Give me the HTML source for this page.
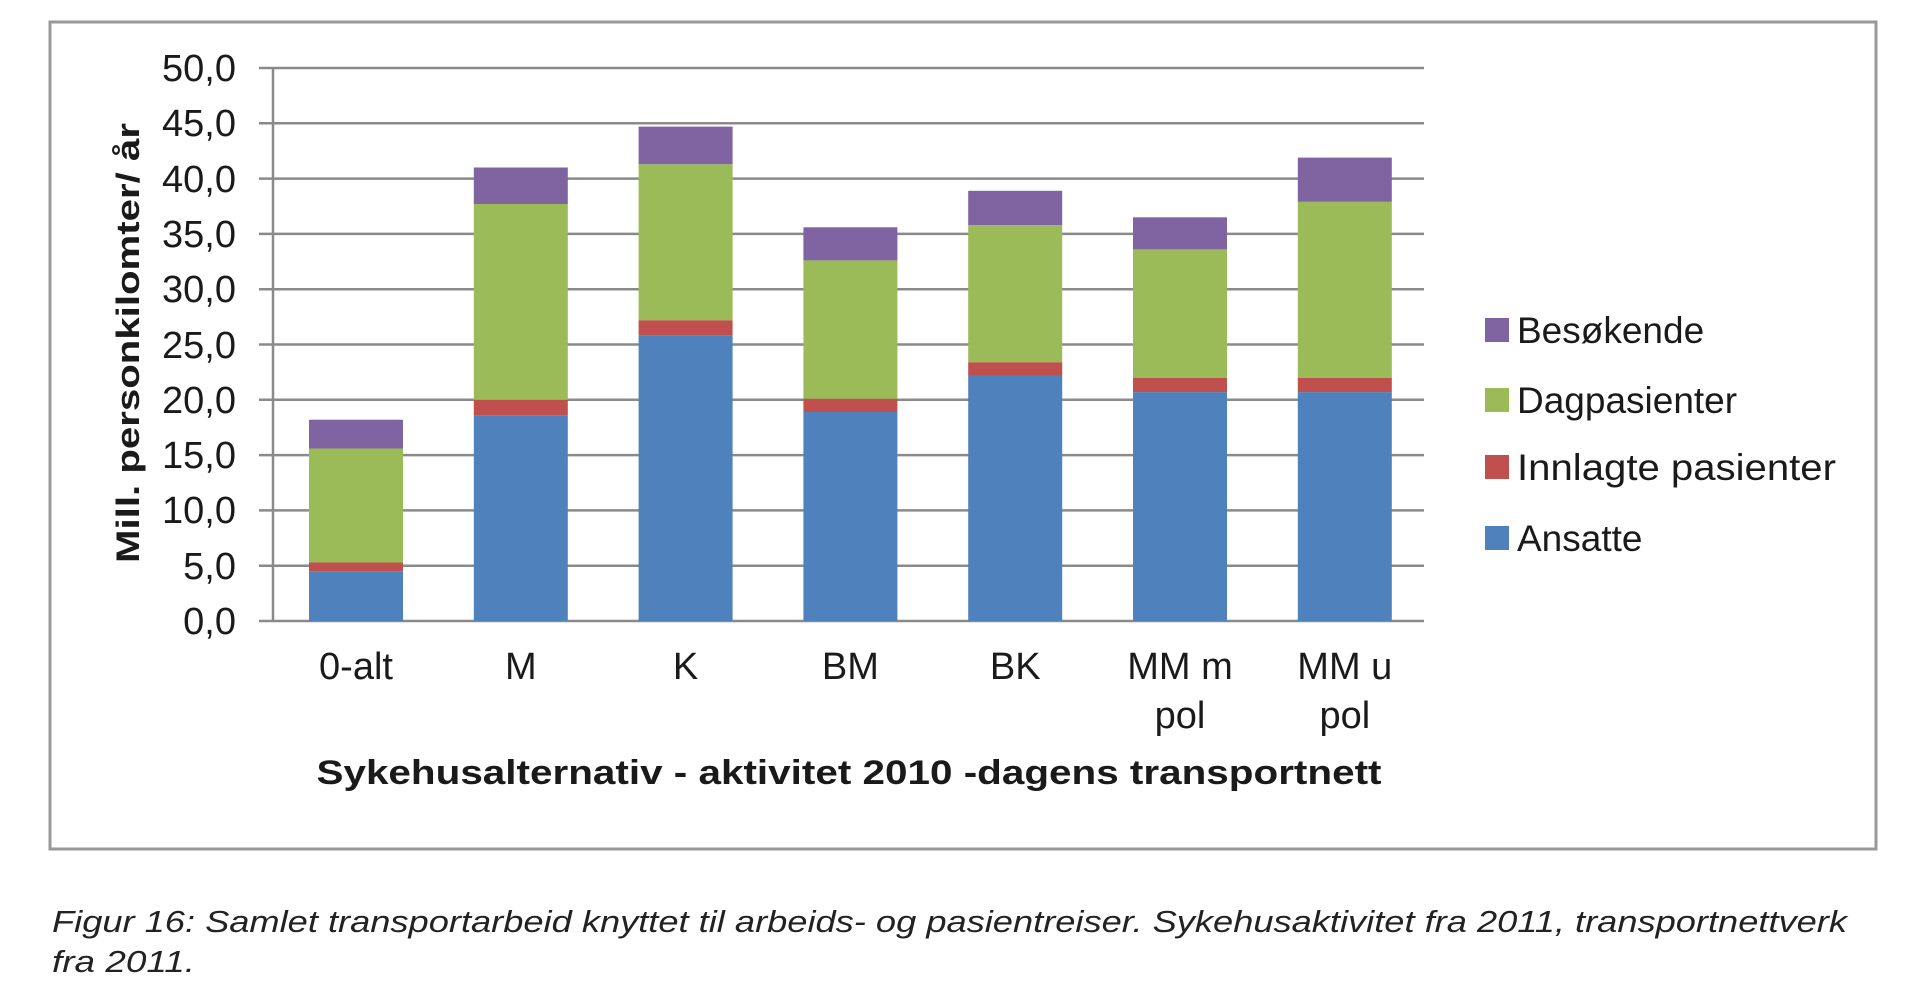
<!DOCTYPE html>
<html><head><meta charset="utf-8"><style>
html,body{margin:0;padding:0;background:#fff;}
svg{display:block;font-family:"Liberation Sans",Arial,sans-serif;}
</style></head><body>
<svg width="1927" height="992" viewBox="0 0 1927 992" xmlns="http://www.w3.org/2000/svg">
<rect x="0" y="0" width="1927" height="992" fill="#fff"/>
<rect x="50" y="22" width="1826" height="827" fill="#fff" stroke="#999" stroke-width="3"/>
<g stroke="#8a8a8a" stroke-width="2.5">
<line x1="259" y1="68" x2="1424" y2="68"/>
<line x1="259" y1="123.3" x2="1424" y2="123.3"/>
<line x1="259" y1="178.6" x2="1424" y2="178.6"/>
<line x1="259" y1="233.9" x2="1424" y2="233.9"/>
<line x1="259" y1="289.2" x2="1424" y2="289.2"/>
<line x1="259" y1="344.5" x2="1424" y2="344.5"/>
<line x1="259" y1="399.8" x2="1424" y2="399.8"/>
<line x1="259" y1="455.1" x2="1424" y2="455.1"/>
<line x1="259" y1="510.4" x2="1424" y2="510.4"/>
<line x1="259" y1="565.7" x2="1424" y2="565.7"/>
<line x1="259" y1="621" x2="1424" y2="621"/>
<line x1="273" y1="68" x2="273" y2="621"/>
</g>
<g font-size="38" fill="#1a1a1a" text-anchor="end">
<text x="236" y="81">50,0</text>
<text x="236" y="136">45,0</text>
<text x="236" y="192">40,0</text>
<text x="236" y="247">35,0</text>
<text x="236" y="302">30,0</text>
<text x="236" y="358">25,0</text>
<text x="236" y="413">20,0</text>
<text x="236" y="468">15,0</text>
<text x="236" y="523">10,0</text>
<text x="236" y="579">5,0</text>
<text x="236" y="634">0,0</text>
</g>
<text transform="translate(139,343) rotate(-90)" font-size="32" font-weight="bold" fill="#1a1a1a" text-anchor="middle" textLength="440" lengthAdjust="spacingAndGlyphs">Mill. personkilomter/ år</text>
<g>
<rect x="309" y="571.2" width="94" height="49.8" fill="#4F81BD"/>
<rect x="309" y="562.4" width="94" height="8.8" fill="#C0504D"/>
<rect x="309" y="448.5" width="94" height="113.9" fill="#9BBB59"/>
<rect x="309" y="419.7" width="94" height="28.8" fill="#8064A2"/>

<rect x="473.8" y="415.3" width="94" height="205.7" fill="#4F81BD"/>
<rect x="473.8" y="399.8" width="94" height="15.5" fill="#C0504D"/>
<rect x="473.8" y="204" width="94" height="195.8" fill="#9BBB59"/>
<rect x="473.8" y="167.5" width="94" height="36.5" fill="#8064A2"/>

<rect x="638.6" y="335.7" width="94" height="285.3" fill="#4F81BD"/>
<rect x="638.6" y="320.2" width="94" height="15.5" fill="#C0504D"/>
<rect x="638.6" y="164.2" width="94" height="156" fill="#9BBB59"/>
<rect x="638.6" y="126.6" width="94" height="37.6" fill="#8064A2"/>

<rect x="803.4" y="412" width="94" height="209" fill="#4F81BD"/>
<rect x="803.4" y="398.7" width="94" height="13.3" fill="#C0504D"/>
<rect x="803.4" y="260.4" width="94" height="138.3" fill="#9BBB59"/>
<rect x="803.4" y="227.3" width="94" height="33.1" fill="#8064A2"/>

<rect x="968.2" y="375.5" width="94" height="245.5" fill="#4F81BD"/>
<rect x="968.2" y="362.2" width="94" height="13.3" fill="#C0504D"/>
<rect x="968.2" y="225.1" width="94" height="137.1" fill="#9BBB59"/>
<rect x="968.2" y="190.8" width="94" height="34.3" fill="#8064A2"/>

<rect x="1133" y="392.1" width="94" height="228.9" fill="#4F81BD"/>
<rect x="1133" y="377.7" width="94" height="14.4" fill="#C0504D"/>
<rect x="1133" y="249.4" width="94" height="128.3" fill="#9BBB59"/>
<rect x="1133" y="217.3" width="94" height="32.1" fill="#8064A2"/>

<rect x="1297.8" y="392.1" width="94" height="228.9" fill="#4F81BD"/>
<rect x="1297.8" y="377.7" width="94" height="14.4" fill="#C0504D"/>
<rect x="1297.8" y="201.8" width="94" height="175.9" fill="#9BBB59"/>
<rect x="1297.8" y="157.6" width="94" height="44.2" fill="#8064A2"/>
</g>
<g font-size="38" fill="#1a1a1a" text-anchor="middle">
<text x="356" y="679">0-alt</text>
<text x="520.8" y="679">M</text>
<text x="685.6" y="679">K</text>
<text x="850.4" y="679">BM</text>
<text x="1015.2" y="679">BK</text>
<text x="1180" y="679">MM m</text>
<text x="1180" y="728">pol</text>
<text x="1344.8" y="679">MM u</text>
<text x="1344.8" y="728">pol</text>
</g>
<text x="849" y="784" font-size="34" font-weight="bold" fill="#1a1a1a" text-anchor="middle" textLength="1065" lengthAdjust="spacingAndGlyphs">Sykehusalternativ - aktivitet 2010 -dagens transportnett</text>
<g font-size="37" fill="#1a1a1a">
<rect x="1485" y="318" width="24" height="24" fill="#8064A2"/>
<text x="1517" y="343">Besøkende</text>
<rect x="1485" y="388" width="24" height="24" fill="#9BBB59"/>
<text x="1517" y="413">Dagpasienter</text>
<rect x="1485" y="455" width="24" height="24" fill="#C0504D"/>
<text x="1517" y="480" textLength="319" lengthAdjust="spacingAndGlyphs">Innlagte pasienter</text>
<rect x="1485" y="526" width="24" height="24" fill="#4F81BD"/>
<text x="1517" y="551">Ansatte</text>
</g>
<g font-size="31" font-style="italic" fill="#222">
<text x="52" y="932" textLength="1795" lengthAdjust="spacingAndGlyphs">Figur 16: Samlet transportarbeid knyttet til arbeids- og pasientreiser. Sykehusaktivitet fra 2011, transportnettverk</text>
<text x="52" y="972" textLength="143" lengthAdjust="spacingAndGlyphs">fra 2011.</text>
</g>
</svg>
</body></html>
